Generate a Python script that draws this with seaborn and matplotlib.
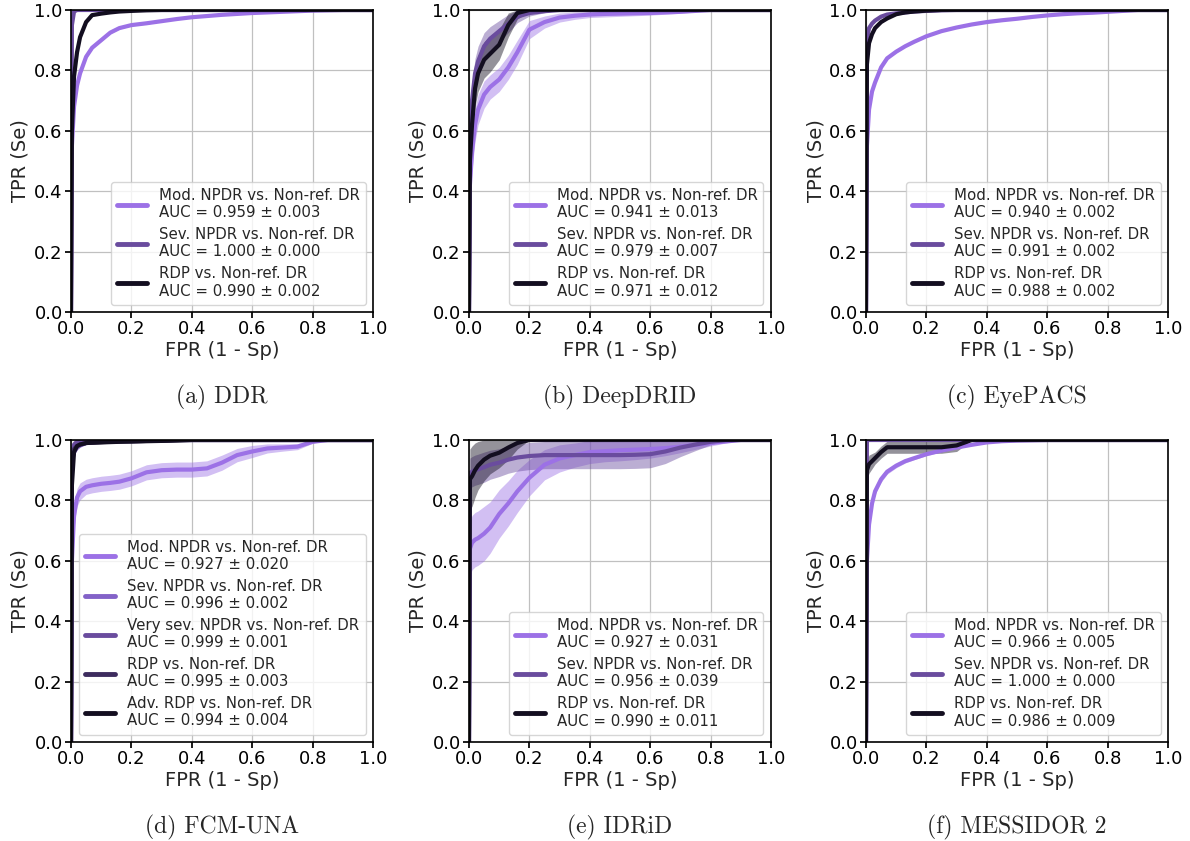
import matplotlib
matplotlib.use("Agg")
import numpy as np
import matplotlib.pyplot as plt
import seaborn as sns

# common FPR grid for the mean ROC curves
FPR = [0, 0.003, 0.01, 0.02, 0.03, 0.05, 0.07, 0.1, 0.13, 0.16, 0.2, 0.25, 0.3,
       0.35, 0.4, 0.45, 0.5, 0.55, 0.6, 0.65, 0.7, 0.75, 0.8, 0.85, 0.9, 1.0]

# (a) DDR
ddr_mod = [0, 0.55, 0.68, 0.75, 0.79, 0.845, 0.875, 0.90, 0.925, 0.94, 0.95, 0.956, 0.963,
           0.97, 0.976, 0.98, 0.984, 0.987, 0.99, 0.992, 0.994, 0.996, 0.998, 0.999, 1, 1]
ddr_mod_sd = [0, 0.02, 0.01, 0.006, 0.005, 0.004, 0.004, 0.003, 0.003, 0.003, 0.003, 0.003, 0.002,
              0.002, 0.002, 0.002, 0.002, 0.001, 0.001, 0.001, 0.001, 0.001, 0.001, 0, 0, 0]
ddr_sev = [0, 0.95, 0.995, 1, 1, 1, 1, 1, 1, 1, 1, 1, 1,
           1, 1, 1, 1, 1, 1, 1, 1, 1, 1, 1, 1, 1]
ddr_sev_sd = [0, 0.01, 0.002, 0, 0, 0, 0, 0, 0, 0, 0, 0, 0,
              0, 0, 0, 0, 0, 0, 0, 0, 0, 0, 0, 0, 0]
ddr_rdp = [0, 0.6, 0.78, 0.86, 0.91, 0.96, 0.983, 0.988, 0.992, 0.995, 0.997, 0.999, 1,
           1, 1, 1, 1, 1, 1, 1, 1, 1, 1, 1, 1, 1]
ddr_rdp_sd = [0, 0.02, 0.01, 0.008, 0.006, 0.004, 0.003, 0.002, 0.002, 0.001, 0.001, 0.001, 0,
              0, 0, 0, 0, 0, 0, 0, 0, 0, 0, 0, 0, 0]

# (b) DeepDRID
ddrid_mod = [0, 0.42, 0.53, 0.62, 0.67, 0.72, 0.745, 0.77, 0.81, 0.86, 0.935, 0.96, 0.975,
             0.981, 0.985, 0.987, 0.988, 0.989, 0.99, 0.992, 0.994, 0.997, 1, 1, 1, 1]
ddrid_mod_sd = [0, 0.06, 0.06, 0.055, 0.05, 0.045, 0.04, 0.04, 0.04, 0.04, 0.03, 0.02, 0.015,
                0.012, 0.01, 0.01, 0.009, 0.008, 0.007, 0.006, 0.005, 0.003, 0, 0, 0, 0]
ddrid_sev = [0, 0.55, 0.70, 0.79, 0.83, 0.88, 0.905, 0.93, 0.955, 0.978, 0.99, 0.996, 1,
             1, 1, 1, 1, 1, 1, 1, 1, 1, 1, 1, 1, 1]
ddrid_sev_sd = [0, 0.06, 0.06, 0.05, 0.05, 0.045, 0.04, 0.035, 0.03, 0.02, 0.01, 0.005, 0,
                0, 0, 0, 0, 0, 0, 0, 0, 0, 0, 0, 0, 0]
ddrid_rdp = [0, 0.5, 0.62, 0.74, 0.79, 0.835, 0.855, 0.885, 0.95, 0.99, 1, 1, 1,
             1, 1, 1, 1, 1, 1, 1, 1, 1, 1, 1, 1, 1]
ddrid_rdp_sd = [0, 0.07, 0.07, 0.06, 0.06, 0.06, 0.06, 0.05, 0.04, 0.02, 0.005, 0, 0,
                0, 0, 0, 0, 0, 0, 0, 0, 0, 0, 0, 0, 0]

# (c) EyePACS
eye_mod = [0, 0.55, 0.67, 0.73, 0.76, 0.81, 0.84, 0.862, 0.88, 0.895, 0.913, 0.93, 0.942,
           0.952, 0.96, 0.966, 0.971, 0.977, 0.982, 0.986, 0.989, 0.991, 0.994, 0.997, 1, 1]
eye_mod_sd = [0, 0.01, 0.005, 0.004, 0.003, 0.003, 0.002, 0.002, 0.002, 0.002, 0.002, 0.002, 0.002,
              0.002, 0.002, 0.002, 0.002, 0.001, 0.001, 0.001, 0.001, 0.001, 0.001, 0, 0, 0]
eye_sev = [0, 0.9, 0.94, 0.955, 0.965, 0.978, 0.985, 0.989, 0.992, 0.995, 0.997, 0.999, 1,
           1, 1, 1, 1, 1, 1, 1, 1, 1, 1, 1, 1, 1]
eye_sev_sd = [0, 0.01, 0.005, 0.004, 0.003, 0.002, 0.002, 0.002, 0.001, 0.001, 0.001, 0, 0,
              0, 0, 0, 0, 0, 0, 0, 0, 0, 0, 0, 0, 0]
eye_rdp = [0, 0.82, 0.89, 0.92, 0.94, 0.96, 0.972, 0.986, 0.992, 0.995, 0.998, 1, 1,
           1, 1, 1, 1, 1, 1, 1, 1, 1, 1, 1, 1, 1]
eye_rdp_sd = [0, 0.01, 0.005, 0.004, 0.003, 0.002, 0.002, 0.002, 0.001, 0.001, 0.001, 0, 0,
              0, 0, 0, 0, 0, 0, 0, 0, 0, 0, 0, 0, 0]

# (d) FCM-UNA
fcm_mod = [0, 0.6, 0.75, 0.81, 0.83, 0.845, 0.85, 0.855, 0.858, 0.862, 0.873, 0.893, 0.9,
           0.902, 0.902, 0.906, 0.925, 0.95, 0.962, 0.972, 0.975, 0.978, 0.994, 1, 1, 1]
fcm_mod_sd = [0, 0.05, 0.04, 0.03, 0.028, 0.025, 0.025, 0.025, 0.025, 0.025, 0.025, 0.025, 0.025,
              0.025, 0.025, 0.025, 0.025, 0.022, 0.02, 0.015, 0.012, 0.01, 0.005, 0, 0, 0]
fcm_sev = [0, 0.93, 0.96, 0.975, 0.982, 0.99, 0.993, 0.995, 0.996, 0.997, 0.997, 0.998, 0.998,
           1, 1, 1, 1, 1, 1, 1, 1, 1, 1, 1, 1, 1]
fcm_sev_sd = [0, 0.02, 0.01, 0.008, 0.006, 0.004, 0.003, 0.003, 0.002, 0.002, 0.002, 0.002, 0.002,
              0, 0, 0, 0, 0, 0, 0, 0, 0, 0, 0, 0, 0]
fcm_vsev = [0, 0.96, 0.985, 0.995, 0.997, 0.999, 1, 1, 1, 1, 1, 1, 1,
            1, 1, 1, 1, 1, 1, 1, 1, 1, 1, 1, 1, 1]
fcm_vsev_sd = [0, 0.02, 0.008, 0.004, 0.003, 0.001, 0, 0, 0, 0, 0, 0, 0,
               0, 0, 0, 0, 0, 0, 0, 0, 0, 0, 0, 0, 0]
fcm_rdp = [0, 0.93, 0.97, 0.98, 0.985, 0.99, 0.991, 0.993, 0.994, 0.995, 0.995, 0.997, 0.998,
           1, 1, 1, 1, 1, 1, 1, 1, 1, 1, 1, 1, 1]
fcm_rdp_sd = [0, 0.02, 0.01, 0.008, 0.006, 0.004, 0.004, 0.003, 0.003, 0.003, 0.003, 0.002, 0.002,
              0, 0, 0, 0, 0, 0, 0, 0, 0, 0, 0, 0, 0]
fcm_adv = [0, 0.85, 0.96, 0.98, 0.985, 0.99, 0.991, 0.992, 0.993, 0.994, 0.995, 0.996, 0.997,
           0.998, 1, 1, 1, 1, 1, 1, 1, 1, 1, 1, 1, 1]
fcm_adv_sd = [0, 0.03, 0.012, 0.008, 0.006, 0.004, 0.004, 0.004, 0.003, 0.003, 0.003, 0.002, 0.002,
              0.002, 0, 0, 0, 0, 0, 0, 0, 0, 0, 0, 0, 0]

# (e) IDRiD
idrid_mod = [0, 0.64, 0.66, 0.67, 0.675, 0.69, 0.71, 0.755, 0.79, 0.83, 0.875, 0.918, 0.939,
             0.95, 0.96, 0.963, 0.966, 0.968, 0.97, 0.973, 0.978, 0.984, 0.99, 0.995, 1, 1]
idrid_mod_sd = [0, 0.09, 0.09, 0.09, 0.09, 0.09, 0.085, 0.08, 0.075, 0.07, 0.06, 0.05, 0.045,
                0.04, 0.038, 0.035, 0.035, 0.033, 0.03, 0.025, 0.02, 0.015, 0.01, 0.005, 0, 0]
idrid_sev = [0, 0.89, 0.895, 0.9, 0.903, 0.91, 0.918, 0.925, 0.935, 0.942, 0.947, 0.95, 0.95,
             0.95, 0.95, 0.95, 0.95, 0.951, 0.953, 0.962, 0.975, 0.985, 0.994, 1, 1, 1]
idrid_sev_sd = [0, 0.05, 0.05, 0.05, 0.05, 0.05, 0.048, 0.046, 0.045, 0.045, 0.045, 0.045, 0.045,
                0.045, 0.045, 0.045, 0.045, 0.045, 0.045, 0.04, 0.03, 0.02, 0.01, 0, 0, 0]
idrid_rdp = [0, 0.87, 0.88, 0.9, 0.915, 0.935, 0.948, 0.958, 0.975, 0.99, 1, 1, 1,
             1, 1, 1, 1, 1, 1, 1, 1, 1, 1, 1, 1, 1]
idrid_rdp_sd = [0, 0.1, 0.1, 0.09, 0.08, 0.07, 0.06, 0.05, 0.04, 0.02, 0, 0, 0,
                0, 0, 0, 0, 0, 0, 0, 0, 0, 0, 0, 0, 0]

# (f) MESSIDOR 2
mes_mod = [0, 0.6, 0.72, 0.79, 0.83, 0.87, 0.895, 0.915, 0.93, 0.94, 0.953, 0.965, 0.975,
           0.984, 0.992, 0.996, 0.998, 0.999, 1, 1, 1, 1, 1, 1, 1, 1]
mes_mod_sd = [0, 0.02, 0.012, 0.01, 0.01, 0.01, 0.008, 0.007, 0.006, 0.005, 0.005, 0.004, 0.003,
              0.002, 0.002, 0.001, 0.001, 0, 0, 0, 0, 0, 0, 0, 0, 0]
mes_sev = [0, 1, 1, 1, 1, 1, 1, 1, 1, 1, 1, 1, 1,
           1, 1, 1, 1, 1, 1, 1, 1, 1, 1, 1, 1, 1]
mes_sev_sd = [0] * 26
mes_rdp = [0, 0.9, 0.92, 0.93, 0.94, 0.96, 0.976, 0.976, 0.976, 0.976, 0.976, 0.976, 0.982,
           1, 1, 1, 1, 1, 1, 1, 1, 1, 1, 1, 1, 1]
mes_rdp_sd = [0, 0.03, 0.03, 0.025, 0.02, 0.02, 0.02, 0.02, 0.02, 0.02, 0.02, 0.02, 0.02,
              0, 0, 0, 0, 0, 0, 0, 0, 0, 0, 0, 0, 0]

LBL_MOD = "Mod. NPDR vs. Non-ref. DR"
LBL_SEV = "Sev. NPDR vs. Non-ref. DR"
LBL_VSEV = "Very sev. NPDR vs. Non-ref. DR"
LBL_RDP = "RDP vs. Non-ref. DR"
LBL_ADV = "Adv. RDP vs. Non-ref. DR"

captions = ["(a) DDR", "(b) DeepDRID", "(c) EyePACS",
            "(d) FCM-UNA", "(e) IDRiD", "(f) MESSIDOR 2"]

# (label, auc, sd of auc, tpr, tpr sd) per curve
panels = [
    [(LBL_MOD, 0.959, 0.003, ddr_mod, ddr_mod_sd),
     (LBL_SEV, 1.000, 0.000, ddr_sev, ddr_sev_sd),
     (LBL_RDP, 0.990, 0.002, ddr_rdp, ddr_rdp_sd)],
    [(LBL_MOD, 0.941, 0.013, ddrid_mod, ddrid_mod_sd),
     (LBL_SEV, 0.979, 0.007, ddrid_sev, ddrid_sev_sd),
     (LBL_RDP, 0.971, 0.012, ddrid_rdp, ddrid_rdp_sd)],
    [(LBL_MOD, 0.940, 0.002, eye_mod, eye_mod_sd),
     (LBL_SEV, 0.991, 0.002, eye_sev, eye_sev_sd),
     (LBL_RDP, 0.988, 0.002, eye_rdp, eye_rdp_sd)],
    [(LBL_MOD, 0.927, 0.020, fcm_mod, fcm_mod_sd),
     (LBL_SEV, 0.996, 0.002, fcm_sev, fcm_sev_sd),
     (LBL_VSEV, 0.999, 0.001, fcm_vsev, fcm_vsev_sd),
     (LBL_RDP, 0.995, 0.003, fcm_rdp, fcm_rdp_sd),
     (LBL_ADV, 0.994, 0.004, fcm_adv, fcm_adv_sd)],
    [(LBL_MOD, 0.927, 0.031, idrid_mod, idrid_mod_sd),
     (LBL_SEV, 0.956, 0.039, idrid_sev, idrid_sev_sd),
     (LBL_RDP, 0.990, 0.011, idrid_rdp, idrid_rdp_sd)],
    [(LBL_MOD, 0.966, 0.005, mes_mod, mes_mod_sd),
     (LBL_SEV, 1.000, 0.000, mes_sev, mes_sev_sd),
     (LBL_RDP, 0.986, 0.009, mes_rdp, mes_rdp_sd)],
]

colors3 = ["#9c71e6", "#6a4c9e", "#130e20"]
colors5 = ["#9c71e6", "#8362c8", "#6a4c9e", "#3d2c5e", "#130e20"]

sns.set_theme(style="whitegrid", rc={
    "axes.edgecolor": "black",
    "axes.linewidth": 1.2,
    "grid.color": "#c0c0c0",
    "grid.linewidth": 0.9,
    "xtick.bottom": True,
    "ytick.left": True,
    "xtick.major.size": 4,
    "ytick.major.size": 4,
    "xtick.color": "black",
    "ytick.color": "black",
})
plt.rcParams["font.family"] = ["DejaVu Sans"]

fig = plt.figure(figsize=(11.9, 8.41), dpi=100)
W, H = 1190, 841
lefts = [71, 469, 866]
tops = [10, 440]
size = 302

for k, curves in enumerate(panels):
    r, c = divmod(k, 3)
    ax = fig.add_axes([lefts[c] / W, 1 - (tops[r] + size) / H, size / W, size / H])
    cols = colors5 if len(curves) == 5 else colors3
    for (lbl, auc, auc_sd, tpr, sd), col in zip(curves, cols):
        tpr = np.array(tpr)
        sd = np.array(sd)
        ax.fill_between(FPR, np.clip(tpr - sd, 0, 1), np.clip(tpr + sd, 0, 1),
                        color=col, alpha=0.45, lw=0)
        sns.lineplot(x=FPR, y=tpr, ax=ax, color=col, lw=3,
                     label=f"{lbl}\nAUC = {auc:.3f} \u00b1 {auc_sd:.3f}")
    ax.set_xlim(0, 1)
    ax.set_ylim(0, 1)
    ax.set_xticks(np.arange(0, 1.01, 0.2))
    ax.set_yticks(np.arange(0, 1.01, 0.2))
    ax.tick_params(labelsize=13, pad=2)
    ax.set_xlabel("FPR (1 - Sp)", fontsize=14, labelpad=2)
    ax.set_ylabel("TPR (Se)", fontsize=14, labelpad=3)
    leg = ax.legend(loc="lower right", fontsize=10.8, handlelength=2.0,
                    labelspacing=0.45, borderpad=0.4, handletextpad=0.8)
    for line in leg.get_lines():
        line.set_linewidth(3.5)
    ax.set_axisbelow(True)
    fig.text((lefts[c] + size / 2) / W, 1 - (397 if r == 0 else 827) / H,
             captions[k], ha="center", va="center", fontsize=17,
             family=["cmr10", "DejaVu Serif"])

fig.savefig("out.png", dpi=100)
